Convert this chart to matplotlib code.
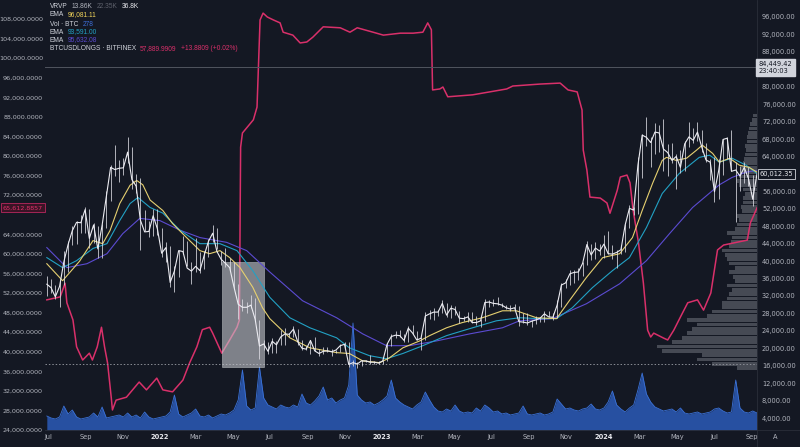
import numpy as np
import pandas as pd
import matplotlib.pyplot as plt
import matplotlib.dates as mdates
import matplotlib.transforms as mtransforms
from matplotlib.patches import Rectangle

W, H = 800, 447
BG = '#141823'
GRID_TXT = '#b2b5be'

#######
# DATA  (prices in USD thousands)
#######
week_end = pd.date_range(end='2024-09-10', periods=168, freq='7D')

price_close = [34.7, 33.9, 31.8, 34.2, 39.8, 43.8, 47.0, 48.9, 48.8, 51.8,
               45.2, 48.3, 42.8, 48.2, 54.9, 61.5, 61.0, 61.3, 61.4, 65.0,
               58.7, 57.2, 49.4, 46.7, 46.8, 50.4, 47.4, 41.8, 43.1, 35.1,
               37.7, 42.4, 42.2, 38.4, 37.7, 38.8, 37.8, 41.3, 44.5, 46.4,
               42.2, 40.4, 39.5, 38.5, 34.1, 30.1, 29.4, 29.4, 29.9, 26.6,
               20.5, 21.0, 19.3, 21.6, 20.8, 22.6, 23.3, 23.2, 24.4, 21.5,
               20.0, 19.8, 21.8, 19.4, 18.8, 19.3, 19.4, 19.2, 19.6, 20.6,
               20.9, 16.3, 16.7, 16.4, 17.1, 17.1, 16.8, 16.8, 16.6, 17.1,
               20.9, 22.7, 23.0, 22.9, 21.8, 24.6, 23.5, 21.9, 22.3, 27.4,
               27.9, 28.3, 28.3, 30.3, 27.6, 29.2, 28.9, 26.9, 26.8, 27.2,
               25.9, 25.9, 26.3, 30.5, 30.6, 30.3, 30.2, 29.9, 29.3, 29.0,
               29.3, 26.1, 26.0, 25.8, 26.2, 26.5, 26.9, 27.9, 27.2, 27.1,
               29.9, 34.5, 35.0, 37.1, 37.4, 37.5, 39.5, 43.8, 41.4, 43.0,
               42.3, 43.9, 41.7, 41.6, 42.0, 42.6, 48.3, 52.1, 51.7, 62.0,
               68.9, 68.4, 67.2, 69.6, 69.4, 65.7, 64.9, 63.1, 64.0, 61.5,
               66.9, 68.5, 67.7, 69.6, 66.2, 63.2, 62.7, 55.9, 60.8, 67.9,
               68.2, 60.6, 60.9, 59.5, 61.5, 58.9, 54.2, 60.0]
price_high = [36.5, 35.9, 34.6, 35.4, 42.3, 44.7, 48.1, 49.3, 50.5, 52.3,
              52.0, 48.8, 48.0, 48.4, 56.0, 62.0, 66.6, 63.3, 63.6, 68.4,
              66.2, 59.9, 59.0, 51.8, 49.3, 51.9, 51.9, 47.6, 44.4, 43.5,
              38.9, 42.6, 45.8, 44.7, 39.8, 45.4, 42.0, 42.3, 45.1, 48.2,
              47.5, 42.4, 42.9, 40.8, 39.9, 34.8, 31.3, 30.6, 32.2, 31.6,
              26.6, 21.9, 21.5, 22.4, 21.6, 24.3, 24.6, 23.6, 25.2, 24.4,
              21.8, 20.5, 21.8, 22.7, 19.9, 20.4, 20.4, 19.9, 19.7, 21.0,
              21.4, 21.4, 17.2, 16.8, 17.3, 17.4, 18.4, 17.0, 17.0, 17.2,
              21.3, 23.3, 23.9, 24.2, 23.2, 25.0, 25.3, 24.0, 22.5, 28.4,
              28.8, 29.2, 28.8, 31.0, 30.5, 30.0, 29.8, 28.6, 27.5, 28.4,
              28.4, 27.3, 26.8, 31.4, 31.0, 31.4, 31.8, 30.4, 30.0, 30.0,
              30.2, 29.7, 28.1, 28.1, 26.4, 27.4, 27.0, 28.5, 28.6, 28.0,
              31.0, 35.0, 35.9, 37.9, 37.9, 38.4, 39.9, 44.7, 44.0, 44.3,
              44.0, 46.0, 47.0, 43.6, 42.6, 43.8, 48.6, 52.8, 52.5, 63.9,
              69.2, 73.0, 68.5, 71.6, 71.3, 72.7, 66.9, 67.2, 64.5, 65.5,
              67.5, 71.9, 70.5, 71.9, 70.0, 67.0, 63.4, 63.8, 63.4, 68.1,
              68.4, 70.0, 62.7, 61.8, 62.8, 61.5, 59.8, 60.5]
price_low = [32.0, 32.7, 31.2, 29.5, 34.5, 37.5, 43.8, 43.9, 46.5, 46.5,
             43.0, 44.2, 40.8, 40.8, 47.5, 53.9, 59.5, 58.1, 59.8, 62.4,
             56.5, 55.6, 42.5, 46.8, 45.5, 45.8, 45.9, 41.0, 39.7, 34.0,
             33.0, 36.3, 41.6, 38.9, 34.8, 37.5, 37.2, 38.2, 40.9, 44.3,
             42.7, 39.2, 38.6, 37.7, 33.7, 26.7, 28.6, 28.0, 29.3, 26.6,
             17.6, 19.7, 18.6, 19.0, 19.0, 20.8, 20.7, 22.6, 22.7, 20.8,
             19.6, 19.6, 18.6, 19.4, 18.2, 18.8, 19.1, 18.2, 18.9, 19.2,
             20.0, 15.6, 16.0, 15.5, 16.0, 16.8, 16.3, 16.4, 16.3, 16.5,
             17.1, 20.5, 22.3, 22.6, 21.5, 21.4, 23.2, 21.9, 19.6, 21.9,
             26.7, 26.5, 27.3, 28.2, 27.1, 27.0, 27.7, 25.8, 26.3, 26.0,
             25.9, 25.4, 24.8, 26.2, 29.5, 29.7, 29.9, 29.5, 28.9, 28.6,
             28.7, 25.2, 25.8, 25.4, 24.9, 25.6, 26.0, 26.0, 27.2, 26.6,
             26.9, 29.5, 33.9, 34.5, 35.0, 35.6, 36.6, 39.0, 40.2, 40.5,
             41.5, 40.7, 41.7, 40.5, 38.5, 41.6, 42.2, 47.7, 50.6, 50.9,
             59.0, 66.5, 61.5, 64.5, 65.0, 60.7, 59.6, 62.5, 56.6, 60.2,
             60.6, 66.2, 67.2, 67.6, 65.0, 62.8, 58.5, 53.5, 54.3, 59.8,
             63.5, 60.6, 49.0, 56.1, 58.0, 57.2, 52.6, 54.5]

# weekly volume (K BTC)
volume = [14, 12, 11, 13, 24, 16, 20, 13, 11, 12, 13, 17, 13, 23, 12, 13, 14, 15, 13, 17,
          13, 15, 12, 18, 13, 11, 12, 13, 14, 18, 35, 16, 13, 15, 17, 21, 14, 13, 15, 12,
          14, 16, 15, 17, 20, 30, 60, 24, 20, 22, 63, 32, 25, 23, 21, 25, 23, 22, 25, 23,
          36, 27, 25, 29, 34, 43, 30, 32, 27, 30, 32, 45, 107, 35, 30, 27, 28, 25, 27, 30,
          34, 50, 32, 28, 25, 23, 21, 25, 28, 38, 30, 23, 19, 18, 21, 19, 25, 19, 17, 18,
          17, 22, 19, 25, 22, 18, 19, 16, 17, 15, 16, 17, 24, 16, 15, 16, 17, 15, 16, 18,
          31, 26, 21, 22, 20, 19, 21, 22, 26, 21, 20, 22, 28, 39, 25, 21, 18, 22, 25, 40,
          57, 36, 28, 23, 21, 19, 20, 21, 18, 22, 17, 16, 17, 18, 16, 17, 18, 21, 22, 19,
          17, 18, 50, 22, 18, 17, 19, 17]

ema_fast_dates = ['2021-06-29', '2021-07-25', '2021-08-22', '2021-09-13', '2021-09-29',
                  '2021-10-11', '2021-10-27', '2021-11-13', '2021-11-24', '2021-12-04',
                  '2021-12-16', '2022-01-06', '2022-01-22', '2022-02-14', '2022-03-08',
                  '2022-03-24', '2022-04-10', '2022-04-26', '2022-05-13', '2022-06-03',
                  '2022-06-19', '2022-07-01', '2022-08-03', '2022-09-05', '2022-10-19',
                  '2022-11-09', '2022-12-01', '2022-12-29', '2023-01-14', '2023-02-05',
                  '2023-03-05', '2023-03-21', '2023-04-18', '2023-05-14', '2023-06-16',
                  '2023-07-19', '2023-08-11', '2023-09-13', '2023-10-16', '2023-11-06',
                  '2023-12-04', '2023-12-31', '2024-01-28', '2024-02-18', '2024-03-05',
                  '2024-03-22', '2024-04-07', '2024-04-14', '2024-04-30', '2024-05-17',
                  '2024-06-02', '2024-06-12', '2024-06-29', '2024-07-10', '2024-07-27',
                  '2024-08-12', '2024-08-28', '2024-09-10']
ema_fast = [39.4, 35.5, 40.0, 44.7, 44.0, 47.0, 53.2, 57.4, 58.5, 57.5,
            54.0, 51.6, 48.6, 45.4, 42.4, 41.7, 42.4, 40.8, 38.5, 34.0,
            29.3, 26.8, 22.4, 20.1, 19.0, 18.8, 17.1, 16.7, 17.8, 20.1,
            21.7, 22.9, 24.7, 25.9, 27.0, 28.6, 28.6, 27.0, 26.8, 30.9,
            36.2, 40.8, 41.7, 45.4, 51.6, 57.8, 63.1, 63.8, 63.1, 63.6,
            65.4, 66.6, 64.7, 62.7, 63.6, 62.0, 61.5, 60.4]

ema_mid_dates = ['2021-06-29', '2021-07-25', '2021-08-17', '2021-09-13', '2021-10-06',
                 '2021-10-27', '2021-11-13', '2021-11-26', '2021-12-16', '2022-01-06',
                 '2022-02-03', '2022-03-08', '2022-04-10', '2022-05-08', '2022-06-03',
                 '2022-07-01', '2022-08-03', '2022-09-05', '2022-10-19', '2022-11-09',
                 '2022-12-12', '2023-01-09', '2023-02-05', '2023-03-10', '2023-04-18',
                 '2023-05-26', '2023-07-09', '2023-08-16', '2023-09-18', '2023-10-16',
                 '2023-11-11', '2023-12-14', '2024-01-16', '2024-02-13', '2024-03-12',
                 '2024-04-07', '2024-05-05', '2024-06-07', '2024-06-24', '2024-07-10',
                 '2024-07-31', '2024-08-23', '2024-09-10']
ema_mid = [40.8, 38.5, 40.1, 42.9, 44.0, 49.3, 53.2, 54.6, 52.3, 51.0,
           47.1, 44.0, 44.0, 42.4, 37.8, 31.7, 27.0, 24.7, 22.4, 20.1,
           18.3, 17.6, 18.8, 20.6, 22.9, 24.5, 26.3, 27.0, 26.8, 26.8,
           29.3, 33.9, 37.8, 40.8, 47.7, 55.5, 60.1, 63.8, 64.3, 62.7,
           63.6, 62.0, 60.1]

ema_slow_dates = ['2021-06-29', '2021-08-01', '2021-09-03', '2021-10-06', '2021-11-01',
                  '2021-11-29', '2022-01-01', '2022-02-03', '2022-03-08', '2022-04-21',
                  '2022-05-24', '2022-07-01', '2022-08-24', '2022-10-19', '2022-12-01',
                  '2023-01-09', '2023-02-16', '2023-04-02', '2023-05-26', '2023-07-19',
                  '2023-08-16', '2023-10-09', '2023-12-04', '2024-01-28', '2024-03-12',
                  '2024-04-19', '2024-05-27', '2024-07-10', '2024-07-31', '2024-08-23',
                  '2024-09-10']
ema_slow = [43.1, 38.5, 39.4, 41.7, 46.3, 49.8, 49.3, 47.1, 45.4, 44.3,
            42.4, 37.5, 30.9, 27.0, 23.3, 20.6, 20.6, 21.7, 23.3, 24.7,
            26.3, 26.8, 30.2, 34.8, 40.1, 46.3, 52.3, 57.5, 59.2, 60.4,
            60.8]

# BTCUSDLONGS (left scale)
longs_dates = ['2021-06-29', '2021-07-21', '2021-07-29', '2021-08-01', '2021-08-11',
               '2021-08-17', '2021-08-27', '2021-09-07', '2021-09-12', '2021-09-20',
               '2021-09-27', '2021-10-02', '2021-10-07', '2021-10-13', '2021-10-15',
               '2021-10-21', '2021-11-07', '2021-11-28', '2021-12-10', '2021-12-27',
               '2022-01-06', '2022-01-22', '2022-02-08', '2022-02-19', '2022-03-03',
               '2022-03-12', '2022-03-24', '2022-03-29', '2022-04-13', '2022-04-26',
               '2022-05-08', '2022-05-12', '2022-05-14', '2022-05-17', '2022-06-04',
               '2022-06-10', '2022-06-15', '2022-06-20', '2022-06-27', '2022-07-07',
               '2022-07-18', '2022-07-23', '2022-08-08', '2022-08-20', '2022-08-31',
               '2022-09-10', '2022-09-27', '2022-10-25', '2022-11-10', '2022-11-22',
               '2022-12-18', '2023-01-04', '2023-02-01', '2023-02-22', '2023-03-10',
               '2023-03-18', '2023-03-24', '2023-03-26', '2023-04-07', '2023-04-12',
               '2023-04-20', '2023-05-31', '2023-07-26', '2023-08-05', '2023-09-19',
               '2023-10-22', '2023-11-04', '2023-11-19', '2023-11-27', '2023-11-29',
               '2023-12-05', '2023-12-10', '2023-12-27', '2024-01-07', '2024-01-12',
               '2024-01-24', '2024-01-29', '2024-02-09', '2024-02-14', '2024-02-19',
               '2024-02-28', '2024-03-07', '2024-03-14', '2024-03-19', '2024-03-24',
               '2024-04-09', '2024-04-16', '2024-04-26', '2024-05-07', '2024-05-19',
               '2024-06-04', '2024-06-14', '2024-06-26', '2024-07-07', '2024-07-17',
               '2024-08-09', '2024-08-25', '2024-08-30', '2024-09-10']
longs = [50.6, 51.2, 54.0, 50.0, 46.5, 41.0, 38.3, 39.7, 38.3, 41.0,
         45.0, 41.0, 37.7, 30.7, 28.1, 30.1, 30.7, 33.8, 32.2, 34.6,
         32.2, 31.8, 34.2, 37.7, 41.0, 44.5, 45.0, 43.8, 39.7, 42.4,
         45.0, 46.5, 81.8, 84.7, 87.4, 90.0, 107.8, 109.2, 108.4, 107.8,
         107.2, 105.3, 104.7, 103.1, 103.3, 104.3, 106.4, 106.2, 105.3, 106.2,
         105.3, 104.7, 105.1, 105.1, 105.3, 107.2, 105.8, 93.5, 93.7, 94.1,
         92.1, 92.5, 93.7, 94.3, 94.7, 94.9, 93.5, 93.1, 89.4, 81.2,
         77.1, 71.6, 71.4, 70.4, 68.3, 73.0, 75.7, 76.1, 74.5, 69.0,
         62.2, 54.0, 44.4, 43.0, 43.8, 42.8, 42.4, 44.4, 47.1, 50.0,
         50.6, 48.5, 52.0, 60.8, 61.8, 62.4, 62.8, 66.3, 69.4]

# visible range volume profile: 1K price bins from 15K upward
vp_bins = np.arange(15, 74)
vp_volume = [20, 45, 60, 55, 95, 100, 85, 75, 70, 65, 60, 70, 50, 45, 35, 35, 30, 28, 25, 30,
             22, 24, 28, 22, 28, 30, 32, 35, 28, 26, 25, 30, 22, 20, 18, 20, 15, 16, 14, 14,
             12, 14, 18, 20, 18, 16, 16, 14, 13, 12, 11, 12, 10, 10, 9, 8, 7, 5, 4]

month_ticks = ['2021-07-01', '2021-09-01', '2021-11-01', '2022-01-01', '2022-03-01',
               '2022-05-01', '2022-07-01', '2022-09-01', '2022-11-01', '2023-01-01',
               '2023-03-01', '2023-05-01', '2023-07-01', '2023-09-01', '2023-11-01',
               '2024-01-01', '2024-03-01', '2024-05-01', '2024-07-01', '2024-09-01']
month_labels = ['Jul', 'Sep', 'Nov', '2022', 'Mar', 'May', 'Jul', 'Sep', 'Nov', '2023',
                'Mar', 'May', 'Jul', 'Sep', 'Nov', '2024', 'Mar', 'May', 'Jul', 'Sep']

legend_rows = [
    [('VRVP', '#d1d4dc'), ('13.86K', '#b2b5be'), ('22.35K', '#5d606b'), ('36.8K', '#e8e9ee')],
    [('EMA', '#d1d4dc'), ('96,081.11', '#f0d35a')],
    [('Vol · BTC', '#d1d4dc'), ('278', '#3d6fd9')],
    [('EMA', '#d1d4dc'), ('93,591.00', '#22a1c4')],
    [('EMA', '#d1d4dc'), ('95,632.08', '#5b4bd1')],
    [('BTCUSDLONGS · BITFINEX', '#d1d4dc'), ('57,889.9909', '#d9306a'),
     ('+13.8809 (+0.02%)', '#d9306a')],
]

last_mark = 84449.42
low_mark = 16300
box_start, box_end = '2022-04-13', '2022-06-22'
box_low, box_high = 15800, 39700


#######
# FIGURE
#######
def k(vals):
    return np.array(vals) * 1000.0

fig = plt.figure(figsize=(W / 100, H / 100), dpi=100, facecolor=BG)
rect = [45 / W, 17 / H, 712 / W, 430 / H]

ax = fig.add_axes(rect)
ax_long = fig.add_axes(rect, sharex=ax)
ax_vol = fig.add_axes(rect, sharex=ax)
ax_vp = fig.add_axes(rect, sharey=ax)
for i, a in enumerate([ax_vol, ax_vp, ax_long, ax]):
    a.set_zorder(i + 1)
    a.patch.set_visible(False)
    for s in a.spines.values():
        s.set_visible(False)

# volume
ax_vol.fill_between(week_end, 0, volume, color='#2a57b0', alpha=0.9, lw=0)
ax_vol.plot(week_end, volume, color='#3b72d8', lw=0.6)
ax_vol.set_ylim(0, 430)
ax_vol.axis('off')

# volume profile
ax_vp.barh(k(vp_bins), vp_volume, height=850, align='edge', left=0,
           color='#9a9da6', alpha=0.38, lw=0)
ax_vp.set_xlim(712, 0)
ax_vp.axis('off')

# longs
left_ticks = np.arange(24000, 108001, 4000)
ax_long.plot(pd.to_datetime(longs_dates), k(longs), color='#d9306a', lw=1.1)
ax_long.set_ylim(24000, 111880)
ax_long.yaxis.tick_left()
ax_long.set_yticks(left_ticks)
ax_long.set_yticklabels(['' if v == 68000 else '{:,.4f}'.format(v) for v in left_ticks])
ax_long.tick_params(axis='y', length=0, pad=1.5, labelsize=4.6, labelcolor=GRID_TXT)
ax_long.tick_params(axis='x', bottom=False, labelbottom=False)

# price + emas
ax.axhline(last_mark, color='#50545e', lw=0.7, zorder=1)
ax.axhline(low_mark, color='#8a8d95', lw=0.7, ls=(0, (1.5, 2)), zorder=1)
x0 = mdates.date2num(pd.Timestamp(box_start))
x1 = mdates.date2num(pd.Timestamp(box_end))
ax.add_patch(Rectangle((x0, box_low), x1 - x0, box_high - box_low,
                       facecolor='#c6c8ce', alpha=0.6, edgecolor='#d8dade', lw=0.5, zorder=2))
ax.plot(pd.to_datetime(ema_slow_dates), k(ema_slow), color='#5b4bd1', lw=0.8, zorder=3)
ax.plot(pd.to_datetime(ema_mid_dates), k(ema_mid), color='#22a1c4', lw=0.8, zorder=3)
ax.plot(pd.to_datetime(ema_fast_dates), k(ema_fast), color='#e6d070', lw=0.8, zorder=3)
ax.vlines(week_end, k(price_low), k(price_high), color='#dcdce4', lw=0.55, zorder=4)
ax.plot(week_end, k(price_close), color='#ececf2', lw=0.8, zorder=4)

right_ticks = np.arange(4000, 96001, 4000)
ax.set_xlim(pd.Timestamp('2021-06-26'), pd.Timestamp('2024-09-10'))
ax.set_ylim(1250, 99900)
ax.yaxis.tick_right()
ax.set_yticks(right_ticks)
ax.set_yticklabels(['' if v in (84000, 60000) else '{:,.2f}'.format(v) for v in right_ticks])
ax.tick_params(axis='y', length=0, pad=3.6, labelsize=4.8, labelcolor=GRID_TXT)
ax.set_xticks(pd.to_datetime(month_ticks))
ax.set_xticklabels(month_labels)
ax.tick_params(axis='x', length=0, pad=3, labelsize=4.8, labelcolor=GRID_TXT)
for lab in ax.get_xticklabels():
    if lab.get_text().isdigit():
        lab.set_color('#e8e9ee')
        lab.set_fontweight('bold')

# axis separators
fig.add_artist(plt.Line2D([45 / W, 800 / W], [17 / H, 17 / H], color='#2a2e39', lw=0.6))
fig.add_artist(plt.Line2D([757 / W, 757 / W], [0, 1], color='#2a2e39', lw=0.6))

# price scale labels
tr_right = mtransforms.blended_transform_factory(ax.transAxes, ax.transData)
ax.text(1.002, last_mark, '84,449.42\n23:40:03', transform=tr_right, ha='left', va='center',
        fontsize=4.8, color='#131722', linespacing=1.15, clip_on=False,
        bbox=dict(boxstyle='square,pad=0.35', fc='#d1d4dc', ec='#d1d4dc'))
ax.text(1.004, k(price_close)[-1], '60,012.35', transform=tr_right, ha='left', va='center',
        fontsize=4.8, color='#e8e9ee', clip_on=False,
        bbox=dict(boxstyle='square,pad=0.3', fc=BG, ec='#d1d4dc', lw=0.6))
tr_left = mtransforms.blended_transform_factory(ax_long.transAxes, ax_long.transData)
ax_long.text(-0.003, k(longs)[-1], '65,612.8857', transform=tr_left, ha='right', va='center',
             fontsize=4.6, color='#e0306a', clip_on=False,
             bbox=dict(boxstyle='square,pad=0.3', fc='#3a1426', ec='#b8285e', lw=0.6))

# legend rows, segments laid out one after another
renderer = fig.canvas.get_renderer()
row_y = [6, 15, 24, 32, 40, 49]
for py, row in zip(row_y, legend_rows):
    px = 50
    for s, c in row:
        t = fig.text(px / W, 1 - py / H, s, color=c, fontsize=4.8, ha='left', va='center',
                     family='Liberation Sans')
        px = t.get_window_extent(renderer).x1 + 4
fig.text(775 / W, 1 - 437 / H, 'A', color=GRID_TXT, fontsize=4.8, ha='center', va='center')

plt.savefig('out.png', dpi=100, facecolor=BG)
